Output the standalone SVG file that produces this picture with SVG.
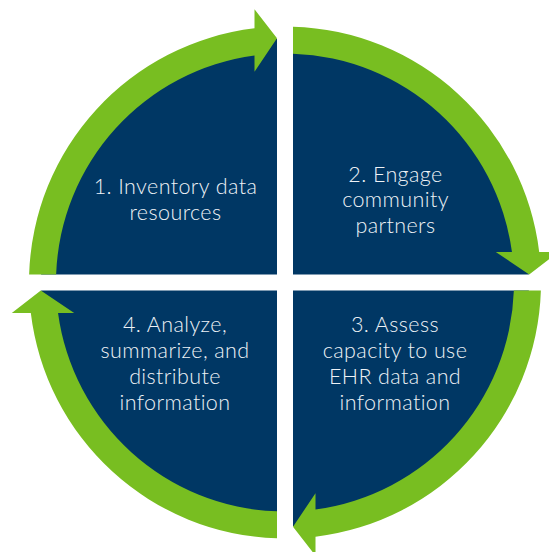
<svg xmlns="http://www.w3.org/2000/svg" xmlns:xlink="http://www.w3.org/1999/xlink" width="549" height="552" viewBox="0 0 549 552">
  <style>
    .quad { fill: #003764; }
    .arrow { fill: #78BE21; }
    .label { font-family: "Lato", "Open Sans", "Liberation Sans", sans-serif; font-weight: 300; font-size: 21.5px; letter-spacing: 0.4px; fill: #EEF2F6; text-anchor: middle; }
  </style>
  <defs>
    <path id="quadShape" d="M -8,-8 L -8,-243.87 A 244 244 0 0 0 -243.87,-8 Z"/>
    <path id="arrowShape" d="M -255.87,-8 A 256 256 0 0 1 -30.5,-254.18 L -30.5,-273.2 L -8,-244.2 L -30.5,-210.8 L -30.5,-226.96 A 229 229 0 0 0 -228.86,-8 Z"/>
  </defs>
  <rect width="549" height="552" fill="#FFFFFF"/>
  <g id="node1">
    <use xlink:href="#quadShape" class="quad" transform="translate(285,282.5)"/>
    <text class="label" x="175.5" y="194">1. Inventory data</text>
    <text class="label" x="175.5" y="220">resources</text>
  </g>
  <g id="node2">
    <use xlink:href="#quadShape" class="quad" transform="translate(285,282.5) rotate(90)"/>
    <text class="label" x="395.5" y="181.5">2. Engage</text>
    <text class="label" x="395.5" y="207">community</text>
    <text class="label" x="395.5" y="232.5">partners</text>
  </g>
  <g id="node3">
    <use xlink:href="#quadShape" class="quad" transform="translate(285,282.5) rotate(180)"/>
    <text class="label" x="395" y="332">3. Assess</text>
    <text class="label" x="395" y="358">capacity to use</text>
    <text class="label" x="395" y="384">EHR data and</text>
    <text class="label" x="395" y="409.5">information</text>
  </g>
  <g id="node4">
    <use xlink:href="#quadShape" class="quad" transform="translate(285,282.5) rotate(270)"/>
    <text class="label" x="175" y="332">4. Analyze,</text>
    <text class="label" x="175" y="358">summarize, and</text>
    <text class="label" x="175" y="384">distribute</text>
    <text class="label" x="175" y="409.5">information</text>
  </g>
  <g id="connectors">
    <use xlink:href="#arrowShape" class="arrow" transform="translate(285,282.5)"/>
    <use xlink:href="#arrowShape" class="arrow" transform="translate(285,282.5) rotate(90)"/>
    <use xlink:href="#arrowShape" class="arrow" transform="translate(285,282.5) rotate(180)"/>
    <use xlink:href="#arrowShape" class="arrow" transform="translate(285,282.5) rotate(270)"/>
  </g>
</svg>
